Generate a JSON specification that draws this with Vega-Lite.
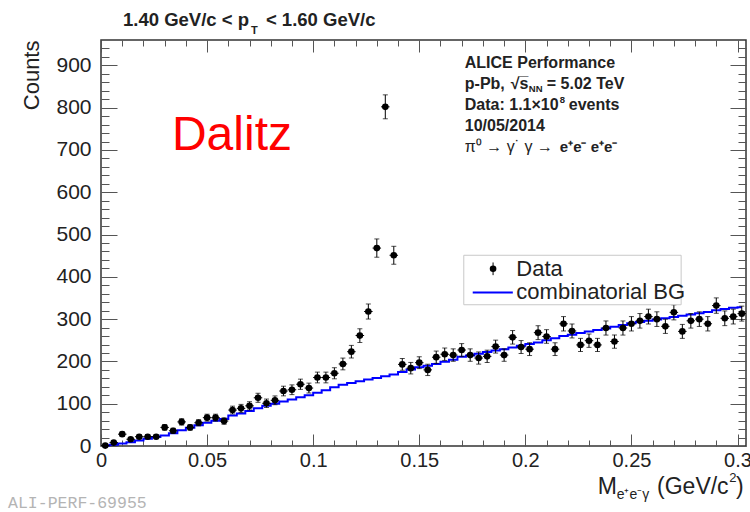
{
  "$schema": "https://vega.github.io/schema/vega-lite/v6.json",
  "width": 645,
  "height": 406,
  "autosize": "none",
  "padding": {"left": 101, "top": 40, "right": 4, "bottom": 66},
  "background": "white",
  "config": {
    "view": {"stroke": "#333", "strokeWidth": 1.5},
    "axis": {"grid": false},
    "text": {"font": "Liberation Sans"}
  },
  "datasets": {
    "hist": [
      {"m": 0.002, "n": 1, "err": 1, "bg": 1},
      {"m": 0.006, "n": 8, "err": 2.8, "bg": 3},
      {"m": 0.010, "n": 28, "err": 5.3, "bg": 6},
      {"m": 0.014, "n": 16, "err": 4, "bg": 9},
      {"m": 0.018, "n": 22, "err": 4.7, "bg": 13},
      {"m": 0.022, "n": 22, "err": 4.7, "bg": 17},
      {"m": 0.026, "n": 22, "err": 4.7, "bg": 21},
      {"m": 0.030, "n": 44, "err": 6.6, "bg": 25},
      {"m": 0.034, "n": 36, "err": 6, "bg": 30},
      {"m": 0.038, "n": 57, "err": 7.5, "bg": 37},
      {"m": 0.042, "n": 44, "err": 6.6, "bg": 43},
      {"m": 0.046, "n": 55, "err": 7.4, "bg": 49},
      {"m": 0.050, "n": 67, "err": 8.2, "bg": 55},
      {"m": 0.054, "n": 67, "err": 8.2, "bg": 60},
      {"m": 0.058, "n": 59, "err": 7.7, "bg": 64},
      {"m": 0.062, "n": 85, "err": 9.2, "bg": 72},
      {"m": 0.066, "n": 89, "err": 9.4, "bg": 77},
      {"m": 0.070, "n": 95, "err": 9.7, "bg": 83},
      {"m": 0.074, "n": 114, "err": 10.7, "bg": 89},
      {"m": 0.078, "n": 101, "err": 10, "bg": 95},
      {"m": 0.082, "n": 108, "err": 10.4, "bg": 100},
      {"m": 0.086, "n": 130, "err": 11.4, "bg": 105},
      {"m": 0.090, "n": 133, "err": 11.5, "bg": 110},
      {"m": 0.094, "n": 146, "err": 12.1, "bg": 115},
      {"m": 0.098, "n": 137, "err": 11.7, "bg": 120},
      {"m": 0.102, "n": 162, "err": 12.7, "bg": 126},
      {"m": 0.106, "n": 162, "err": 12.7, "bg": 132},
      {"m": 0.110, "n": 172, "err": 13.1, "bg": 139},
      {"m": 0.114, "n": 194, "err": 13.9, "bg": 145},
      {"m": 0.118, "n": 223, "err": 14.9, "bg": 149},
      {"m": 0.122, "n": 261, "err": 16.2, "bg": 153},
      {"m": 0.126, "n": 318, "err": 17.8, "bg": 157},
      {"m": 0.130, "n": 468, "err": 21.6, "bg": 161},
      {"m": 0.134, "n": 802, "err": 28.3, "bg": 165},
      {"m": 0.138, "n": 451, "err": 21.2, "bg": 169},
      {"m": 0.142, "n": 193, "err": 13.9, "bg": 175},
      {"m": 0.146, "n": 184, "err": 13.6, "bg": 181},
      {"m": 0.150, "n": 197, "err": 14, "bg": 186},
      {"m": 0.154, "n": 180, "err": 13.4, "bg": 190},
      {"m": 0.158, "n": 210, "err": 14.5, "bg": 194},
      {"m": 0.162, "n": 217, "err": 14.7, "bg": 199},
      {"m": 0.166, "n": 215, "err": 14.7, "bg": 204},
      {"m": 0.170, "n": 227, "err": 15.1, "bg": 211},
      {"m": 0.174, "n": 215, "err": 14.7, "bg": 214},
      {"m": 0.178, "n": 208, "err": 14.4, "bg": 218},
      {"m": 0.182, "n": 212, "err": 14.6, "bg": 222},
      {"m": 0.186, "n": 235, "err": 15.3, "bg": 226},
      {"m": 0.190, "n": 215, "err": 14.7, "bg": 229},
      {"m": 0.194, "n": 257, "err": 16, "bg": 233},
      {"m": 0.198, "n": 234, "err": 15.3, "bg": 237},
      {"m": 0.202, "n": 229, "err": 15.1, "bg": 241},
      {"m": 0.206, "n": 268, "err": 16.4, "bg": 245},
      {"m": 0.210, "n": 259, "err": 16.1, "bg": 250},
      {"m": 0.214, "n": 229, "err": 15.1, "bg": 255},
      {"m": 0.218, "n": 289, "err": 17, "bg": 260},
      {"m": 0.222, "n": 272, "err": 16.5, "bg": 263},
      {"m": 0.226, "n": 239, "err": 15.5, "bg": 267},
      {"m": 0.230, "n": 249, "err": 15.8, "bg": 271},
      {"m": 0.234, "n": 239, "err": 15.5, "bg": 274},
      {"m": 0.238, "n": 279, "err": 16.7, "bg": 278},
      {"m": 0.242, "n": 247, "err": 15.7, "bg": 282},
      {"m": 0.246, "n": 279, "err": 16.7, "bg": 286},
      {"m": 0.250, "n": 289, "err": 17, "bg": 290},
      {"m": 0.254, "n": 296, "err": 17.2, "bg": 293},
      {"m": 0.258, "n": 306, "err": 17.5, "bg": 296},
      {"m": 0.262, "n": 300, "err": 17.3, "bg": 299},
      {"m": 0.266, "n": 283, "err": 16.8, "bg": 302},
      {"m": 0.270, "n": 316, "err": 17.8, "bg": 305},
      {"m": 0.274, "n": 271, "err": 16.5, "bg": 308},
      {"m": 0.278, "n": 296, "err": 17.2, "bg": 311},
      {"m": 0.282, "n": 300, "err": 17.3, "bg": 314},
      {"m": 0.286, "n": 289, "err": 17, "bg": 317},
      {"m": 0.290, "n": 332, "err": 18.2, "bg": 321},
      {"m": 0.294, "n": 302, "err": 17.4, "bg": 324},
      {"m": 0.298, "n": 306, "err": 17.5, "bg": 327},
      {"m": 0.302, "n": 313, "err": 17.7, "bg": 328}
    ]
  },
  "resolve": {"axis": {"x": "independent", "y": "independent"}},
  "layer": [
    {
      "data": {"name": "hist"},
      "mark": {"type": "line", "interpolate": "step", "color": "#0000ff", "strokeWidth": 2},
      "encoding": {
        "x": {"field": "m", "type": "quantitative",
          "scale": {"domain": [0, 0.304], "nice": false, "zero": false},
          "axis": {"orient": "bottom", "values": [0, 0.05, 0.1, 0.15, 0.2, 0.25, 0.3], "format": "~g", "ticks": false, "domain": false, "tickSize": 0,
            "labelFont": "Liberation Sans", "labelFontSize": 20, "labelColor": "#222", "labelPadding": 4, "labelFlush": false, "labelOverlap": false, "title": null}},
        "y": {"field": "bg", "type": "quantitative",
          "scale": {"domain": [0, 960], "nice": false, "zero": false},
          "axis": {"orient": "left", "values": [0, 100, 200, 300, 400, 500, 600, 700, 800, 900], "ticks": false, "domain": false, "tickSize": 0,
            "labelFont": "Liberation Sans", "labelFontSize": 21, "labelColor": "#222", "labelPadding": 10, "labelFlush": false, "labelOverlap": false,
            "title": "Counts", "titleFont": "Liberation Sans", "titleFontSize": 22, "titleFontWeight": "normal", "titleColor": "#222", "titleAnchor": "end", "titlePadding": 12}}
      }
    },
    {
      "data": {"name": "hist"},
      "mark": {"type": "errorbar", "ticks": {"size": 5}, "color": "black", "thickness": 1},
      "encoding": {
        "x": {"field": "m", "type": "quantitative", "axis": null},
        "y": {"field": "n", "type": "quantitative", "axis": null},
        "yError": {"field": "err"}
      }
    },
    {
      "data": {"name": "hist"},
      "mark": {"type": "point", "shape": "circle", "filled": true, "color": "black", "opacity": 1, "size": 44},
      "encoding": {
        "x": {"field": "m", "type": "quantitative",
          "axis": {"orient": "bottom", "values": [0, 0.05, 0.1, 0.15, 0.2, 0.25, 0.3], "tickSize": -12, "tickColor": "#555", "labels": false, "domain": false, "title": null}},
        "y": {"field": "n", "type": "quantitative",
          "axis": {"orient": "left", "values": [0, 100, 200, 300, 400, 500, 600, 700, 800, 900], "tickSize": -16, "tickColor": "#555", "labels": false, "domain": false, "title": null}}
      }
    },
    {
      "data": {"name": "hist"},
      "mark": {"type": "tick", "orient": "horizontal", "size": 8.5, "thickness": 1, "color": "black", "opacity": 1},
      "encoding": {
        "x": {"field": "m", "type": "quantitative",
          "axis": {"orient": "bottom", "values": [0.01, 0.02, 0.03, 0.04, 0.06, 0.07, 0.08, 0.09, 0.11, 0.12, 0.13, 0.14, 0.16, 0.17, 0.18, 0.19, 0.21, 0.22, 0.23, 0.24, 0.26, 0.27, 0.28, 0.29], "tickSize": -6, "tickColor": "#555", "labels": false, "domain": false, "title": null}},
        "y": {"field": "n", "type": "quantitative",
          "axis": {"orient": "left", "values": [20, 40, 60, 80, 120, 140, 160, 180, 220, 240, 260, 280, 320, 340, 360, 380, 420, 440, 460, 480, 520, 540, 560, 580, 620, 640, 660, 680, 720, 740, 760, 780, 820, 840, 860, 880, 920, 940], "tickSize": -8, "tickColor": "#555", "labels": false, "domain": false, "title": null}}
      }
    },
    {
      "data": {"values": [{}]},
      "mark": {"type": "rect", "fill": "white", "stroke": "#c8c8c8", "strokeWidth": 1},
      "encoding": {
        "x": {"datum": 0.17099, "type": "quantitative",
          "axis": {"orient": "top", "values": [0, 0.05, 0.1, 0.15, 0.2, 0.25, 0.3], "tickSize": -12, "tickColor": "#555", "labels": false, "domain": false, "title": null}},
        "x2": {"datum": 0.27343},
        "y": {"datum": 451, "type": "quantitative",
          "axis": {"orient": "right", "values": [0, 100, 200, 300, 400, 500, 600, 700, 800, 900], "tickSize": -16, "tickColor": "#555", "labels": false, "domain": false, "title": null}},
        "y2": {"datum": 334}
      }
    },
    {
      "data": {"values": [{}]},
      "mark": {"type": "rule", "color": "#0000ff", "strokeWidth": 2},
      "encoding": {
        "x": {"datum": 0.1752, "type": "quantitative",
          "axis": {"orient": "top", "values": [0.01, 0.02, 0.03, 0.04, 0.06, 0.07, 0.08, 0.09, 0.11, 0.12, 0.13, 0.14, 0.16, 0.17, 0.18, 0.19, 0.21, 0.22, 0.23, 0.24, 0.26, 0.27, 0.28, 0.29], "tickSize": -6, "tickColor": "#555", "labels": false, "domain": false, "title": null}},
        "x2": {"datum": 0.1941},
        "y": {"datum": 363, "type": "quantitative",
          "axis": {"orient": "right", "values": [20, 40, 60, 80, 120, 140, 160, 180, 220, 240, 260, 280, 320, 340, 360, 380, 420, 440, 460, 480, 520, 540, 560, 580, 620, 640, 660, 680, 720, 740, 760, 780, 820, 840, 860, 880, 920, 940], "tickSize": -8, "tickColor": "#555", "labels": false, "domain": false, "title": null}}
      }
    },
    {
      "data": {"values": [{}]},
      "mark": {"type": "rule", "color": "black", "strokeWidth": 1},
      "encoding": {
        "x": {"datum": 0.18479, "type": "quantitative", "axis": null},
        "y": {"datum": 404, "type": "quantitative", "axis": null},
        "y2": {"datum": 434}
      }
    },
    {
      "data": {"values": [{}]},
      "mark": {"type": "point", "shape": "circle", "filled": true, "color": "black", "opacity": 1, "size": 44},
      "encoding": {
        "x": {"datum": 0.18479, "type": "quantitative", "axis": null},
        "y": {"datum": 419, "type": "quantitative", "axis": null}
      }
    },
    {
      "data": {"values": [{}]},
      "mark": {"type": "text", "font": "Liberation Sans", "fontSize": 22, "color": "#222", "align": "left", "baseline": "middle"},
      "encoding": {
        "x": {"datum": 0.19576, "type": "quantitative", "axis": null},
        "y": {"datum": 419, "type": "quantitative", "axis": null},
        "text": {"value": "Data"}
      }
    },
    {
      "data": {"values": [{}]},
      "mark": {"type": "text", "font": "Liberation Sans", "fontSize": 22, "color": "#222", "align": "left", "baseline": "middle"},
      "encoding": {
        "x": {"datum": 0.19576, "type": "quantitative", "axis": null},
        "y": {"datum": 363, "type": "quantitative", "axis": null},
        "text": {"value": "combinatorial BG"}
      }
    },
    {
      "data": {"values": [{}]},
      "mark": {"type": "text", "font": "Liberation Sans", "fontSize": 48, "color": "#ff0000", "align": "left", "baseline": "alphabetic"},
      "encoding": {
        "x": {"datum": 0.03344, "type": "quantitative", "axis": null},
        "y": {"datum": 701, "type": "quantitative", "axis": null},
        "text": {"value": "Dalitz"}
      }
    },
    {
      "data": {"values": [{}]},
      "mark": {"type": "text", "font": "Liberation Sans", "fontSize": 16, "fontWeight": "bold", "color": "#222", "align": "left", "baseline": "alphabetic"},
      "encoding": {
        "x": {"datum": 0.17146, "type": "quantitative", "axis": null},
        "y": {"datum": 893, "type": "quantitative", "axis": null},
        "text": {"value": "ALICE Performance"}
      }
    },
    {
      "data": {"values": [{}]},
      "mark": {"type": "text", "font": "Liberation Sans", "fontSize": 16, "fontWeight": "bold", "color": "#222", "align": "left", "baseline": "alphabetic"},
      "encoding": {
        "x": {"datum": 0.17146, "type": "quantitative", "axis": null},
        "y": {"datum": 843, "type": "quantitative", "axis": null},
        "text": {"value": "p-Pb,"}
      }
    },
    {
      "data": {"values": [{}]},
      "mark": {"type": "text", "font": "Liberation Sans", "fontSize": 16, "fontWeight": "bold", "color": "#222", "align": "left", "baseline": "alphabetic", "dx": 46},
      "encoding": {
        "x": {"datum": 0.17146, "type": "quantitative", "axis": null},
        "y": {"datum": 843, "type": "quantitative", "axis": null},
        "text": {"value": "√s̅"}
      }
    },
    {
      "data": {"values": [{}]},
      "mark": {"type": "text", "font": "Liberation Sans", "fontSize": 9.5, "fontWeight": "bold", "color": "#222", "align": "left", "baseline": "alphabetic", "dx": 64, "dy": 3},
      "encoding": {
        "x": {"datum": 0.17146, "type": "quantitative", "axis": null},
        "y": {"datum": 843, "type": "quantitative", "axis": null},
        "text": {"value": "NN"}
      }
    },
    {
      "data": {"values": [{}]},
      "mark": {"type": "text", "font": "Liberation Sans", "fontSize": 16, "fontWeight": "bold", "color": "#222", "align": "left", "baseline": "alphabetic", "dx": 82},
      "encoding": {
        "x": {"datum": 0.17146, "type": "quantitative", "axis": null},
        "y": {"datum": 843, "type": "quantitative", "axis": null},
        "text": {"value": "= 5.02 TeV"}
      }
    },
    {
      "data": {"values": [{}]},
      "mark": {"type": "text", "font": "Liberation Sans", "fontSize": 16, "fontWeight": "bold", "color": "#222", "align": "left", "baseline": "alphabetic"},
      "encoding": {
        "x": {"datum": 0.17146, "type": "quantitative", "axis": null},
        "y": {"datum": 793.5, "type": "quantitative", "axis": null},
        "text": {"value": "Data: 1.1×10"}
      }
    },
    {
      "data": {"values": [{}]},
      "mark": {"type": "text", "font": "Liberation Sans", "fontSize": 9.5, "fontWeight": "bold", "color": "#222", "align": "left", "baseline": "alphabetic", "dx": 95, "dy": -7},
      "encoding": {
        "x": {"datum": 0.17146, "type": "quantitative", "axis": null},
        "y": {"datum": 793.5, "type": "quantitative", "axis": null},
        "text": {"value": "8"}
      }
    },
    {
      "data": {"values": [{}]},
      "mark": {"type": "text", "font": "Liberation Sans", "fontSize": 16, "fontWeight": "bold", "color": "#222", "align": "left", "baseline": "alphabetic", "dx": 104},
      "encoding": {
        "x": {"datum": 0.17146, "type": "quantitative", "axis": null},
        "y": {"datum": 793.5, "type": "quantitative", "axis": null},
        "text": {"value": "events"}
      }
    },
    {
      "data": {"values": [{}]},
      "mark": {"type": "text", "font": "Liberation Sans", "fontSize": 16, "fontWeight": "bold", "color": "#222", "align": "left", "baseline": "alphabetic"},
      "encoding": {
        "x": {"datum": 0.17146, "type": "quantitative", "axis": null},
        "y": {"datum": 743.7, "type": "quantitative", "axis": null},
        "text": {"value": "10/05/2014"}
      }
    },
    {
      "data": {"values": [{}]},
      "mark": {"type": "text", "font": "Liberation Sans", "fontSize": 16, "color": "#222", "align": "left", "baseline": "alphabetic"},
      "encoding": {
        "x": {"datum": 0.17146, "type": "quantitative", "axis": null},
        "y": {"datum": 694, "type": "quantitative", "axis": null},
        "text": {"value": "π⁰ → γ˙  γ  →"}
      }
    },
    {
      "data": {"values": [{}]},
      "mark": {"type": "text", "font": "Liberation Sans", "fontSize": 15, "fontWeight": "bold", "color": "#222", "align": "left", "baseline": "alphabetic", "dx": 95},
      "encoding": {
        "x": {"datum": 0.17146, "type": "quantitative", "axis": null},
        "y": {"datum": 694, "type": "quantitative", "axis": null},
        "text": {"value": "e⁺e⁻  e⁺e⁻"}
      }
    },
    {
      "data": {"values": [{}]},
      "mark": {"type": "text", "font": "Liberation Sans", "fontSize": 18.5, "fontWeight": "bold", "color": "#222", "align": "left", "baseline": "alphabetic"},
      "encoding": {
        "x": {"datum": 0.01036, "type": "quantitative", "axis": null},
        "y": {"datum": 993, "type": "quantitative", "axis": null},
        "text": {"value": "1.40 GeV/c < p"}
      }
    },
    {
      "data": {"values": [{}]},
      "mark": {"type": "text", "font": "Liberation Sans", "fontSize": 11, "fontWeight": "bold", "color": "#222", "align": "left", "baseline": "alphabetic"},
      "encoding": {
        "x": {"datum": 0.07067, "type": "quantitative", "axis": null},
        "y": {"datum": 973.5, "type": "quantitative", "axis": null},
        "text": {"value": "T"}
      }
    },
    {
      "data": {"values": [{}]},
      "mark": {"type": "text", "font": "Liberation Sans", "fontSize": 18.5, "fontWeight": "bold", "color": "#222", "align": "left", "baseline": "alphabetic"},
      "encoding": {
        "x": {"datum": 0.07772, "type": "quantitative", "axis": null},
        "y": {"datum": 993, "type": "quantitative", "axis": null},
        "text": {"value": "< 1.60 GeV/c"}
      }
    },
    {
      "data": {"values": [{}]},
      "mark": {"type": "text", "font": "Liberation Sans", "fontSize": 23, "color": "#222", "align": "left", "baseline": "alphabetic"},
      "encoding": {
        "x": {"datum": 0.2341, "type": "quantitative", "axis": null},
        "y": {"datum": -113.7, "type": "quantitative", "axis": null},
        "text": {"value": "M"}
      }
    },
    {
      "data": {"values": [{}]},
      "mark": {"type": "text", "font": "Liberation Sans", "fontSize": 14, "color": "#222", "align": "left", "baseline": "alphabetic"},
      "encoding": {
        "x": {"datum": 0.24305, "type": "quantitative", "axis": null},
        "y": {"datum": -125.5, "type": "quantitative", "axis": null},
        "text": {"value": "e⁺e⁻γ"}
      }
    },
    {
      "data": {"values": [{}]},
      "mark": {"type": "text", "font": "Liberation Sans", "fontSize": 23, "color": "#222", "align": "right", "baseline": "alphabetic"},
      "encoding": {
        "x": {"datum": 0.29581, "type": "quantitative", "axis": null},
        "y": {"datum": -113.7, "type": "quantitative", "axis": null},
        "text": {"value": "(GeV/c"}
      }
    },
    {
      "data": {"values": [{}]},
      "mark": {"type": "text", "font": "Liberation Sans", "fontSize": 13, "color": "#222", "align": "left", "baseline": "alphabetic"},
      "encoding": {
        "x": {"datum": 0.29605, "type": "quantitative", "axis": null},
        "y": {"datum": -85.3, "type": "quantitative", "axis": null},
        "text": {"value": "2"}
      }
    },
    {
      "data": {"values": [{}]},
      "mark": {"type": "text", "font": "Liberation Sans", "fontSize": 23, "color": "#222", "align": "left", "baseline": "alphabetic"},
      "encoding": {
        "x": {"datum": 0.29934, "type": "quantitative", "axis": null},
        "y": {"datum": -113.7, "type": "quantitative", "axis": null},
        "text": {"value": ")"}
      }
    },
    {
      "data": {"values": [{}]},
      "mark": {"type": "text", "font": "Liberation Mono", "fontSize": 16.5, "color": "#b4b4b4", "align": "left", "baseline": "alphabetic"},
      "encoding": {
        "x": {"datum": -0.0438, "type": "quantitative", "axis": null},
        "y": {"datum": -146.9, "type": "quantitative", "axis": null},
        "text": {"value": "ALI-PERF-69955"}
      }
    }
  ]
}
